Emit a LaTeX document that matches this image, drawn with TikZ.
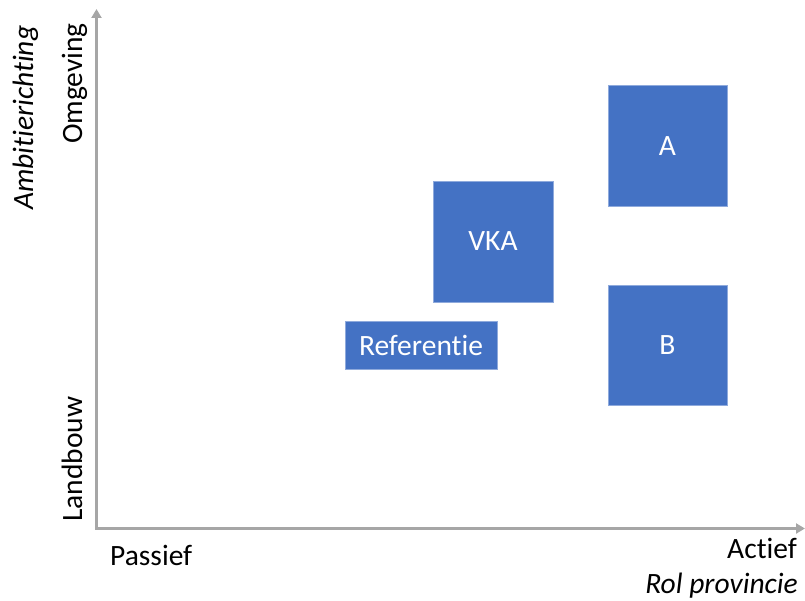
\documentclass[tikz,border=0pt]{standalone}
\usepackage{fontspec}
\setmainfont{Carlito}[Ligatures={NoCommon}]
\usetikzlibrary{arrows.meta}
\definecolor{boxblue}{HTML}{4472C4}
\definecolor{axisgray}{HTML}{A6A6A6}
\tikzset{
  qbox/.style={fill=boxblue, draw=boxblue!60!white, line width=0.8pt, text=white,
    font=\fontsize{29.5}{34}\selectfont, inner sep=0pt},
  axis/.style={draw=axisgray, line width=3pt, -{Triangle[length=9pt,width=10pt]}},
  lbl/.style={font=\fontsize{29.5}{34}\selectfont, inner sep=0pt, text=black},
}
\begin{document}
\begin{tikzpicture}[x=1pt,y=-1pt]
\useasboundingbox (0,0) rectangle (805,601);
\coordinate (O) at (96.5,528.5);
\coordinate (Ytop) at (96.5,9);
\coordinate (Xend) at (805,528.5);
\draw[axis] (O) -- (Ytop);
\draw[axis] ([xshift=-1.5pt]O) -- (Xend);
% boxes
\node[qbox, minimum width=119pt, minimum height=121pt] (A) at (667.5,146) {A};
\node[qbox, minimum width=120pt, minimum height=121pt] (VKA) at (493,241.5) {VKA};
\node[qbox, minimum width=119pt, minimum height=120pt] (B) at (667.5,345) {B};
\node[qbox, minimum width=152pt, minimum height=48pt] (Ref) at (421,345) {Referentie};
% labels
\node[lbl, anchor=base west] (passief) at (110,565) {Passief};
\node[lbl, anchor=base east] (actief) at (797,558) {Actief};
\node[lbl, anchor=base east, font=\fontsize{29.5}{34}\selectfont\itshape] (rol) at (798,593) {Rol provincie};
\node[lbl, rotate=90, anchor=base east] (omg) at (82,23) {Omgeving};
\node[lbl, rotate=90, anchor=base west] (land) at (82,522) {Landbouw};
\node[lbl, rotate=90, anchor=base west, font=\fontsize{29.5}{34}\selectfont\itshape] (amb) at (33,210) {Ambitierichting};
\end{tikzpicture}
\end{document}
